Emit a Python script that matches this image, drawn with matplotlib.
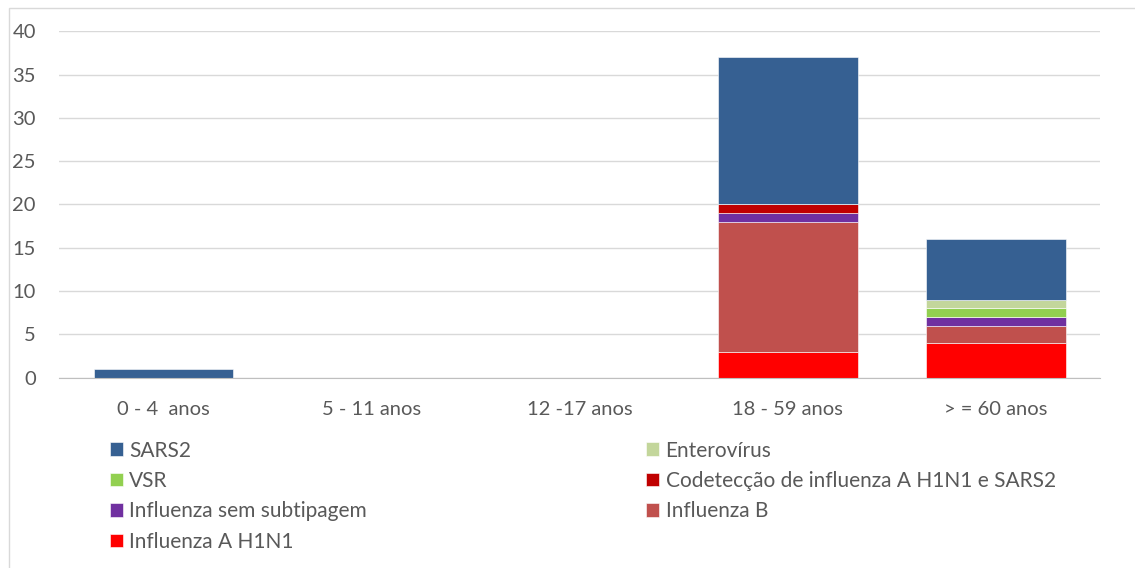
import matplotlib.pyplot as plt
import numpy as np
from matplotlib.patches import Rectangle

categories = ["0 - 4  anos", "5 - 11 anos", "12 -17 anos", "18 - 59 anos", "> = 60 anos"]

# series, bottom to top of the stack
h1n1 = [0, 0, 0, 3, 4]
flu_b = [0, 0, 0, 15, 2]
sem_subtip = [0, 0, 0, 1, 1]
codetec = [0, 0, 0, 1, 0]
vsr = [0, 0, 0, 0, 1]
entero = [0, 0, 0, 0, 1]
sars2 = [1, 0, 0, 17, 7]

series = [
    ("Influenza A H1N1", h1n1, "#FF0000"),
    ("Influenza B", flu_b, "#C0504D"),
    ("Influenza sem subtipagem", sem_subtip, "#7030A0"),
    ("Codetecção de influenza A H1N1 e SARS2", codetec, "#C00000"),
    ("VSR", vsr, "#92D050"),
    ("Enterovírus", entero, "#C3D69B"),
    ("SARS2", sars2, "#366092"),
]
legend_order = ["SARS2", "VSR", "Influenza sem subtipagem", "Influenza A H1N1",
                "Enterovírus", "Codetecção de influenza A H1N1 e SARS2", "Influenza B"]

plt.rcParams["font.family"] = ["Lato", "DejaVu Sans"]

fig = plt.figure(figsize=(11.35, 5.68), dpi=100)
ax = fig.add_axes([0.0524, 0.335, 0.9167, 0.61])

x = np.arange(len(categories))
bottom = np.zeros(len(categories))
handles = {}
for name, vals, color in series:
    vals = np.array(vals, dtype=float)
    bars = ax.bar(x, vals, 0.67, bottom=bottom, color=color,
                  edgecolor="white", linewidth=0.4, label=name, zorder=3)
    handles[name] = bars
    bottom += vals

ax.set_ylim(0, 40)
ax.set_xlim(-0.5, len(categories) - 0.5)
ax.set_yticks(range(0, 41, 5))
ax.set_xticks(x)
ax.set_xticklabels(categories)
ax.tick_params(length=0, labelsize=14.5, colors="#595959")
ax.tick_params(axis="x", pad=17)
ax.tick_params(axis="y", pad=17)
ax.grid(axis="y", color="#D9D9D9", linewidth=1, zorder=0)
for side in ("top", "right", "left"):
    ax.spines[side].set_visible(False)
ax.spines["bottom"].set_color("#BFBFBF")
ax.spines["bottom"].set_zorder(4)

leg = fig.legend([handles[n] for n in legend_order], legend_order, ncol=2,
                 loc="upper left", bbox_to_anchor=(0.0895, 0.239), frameon=False,
                 fontsize=15, handlelength=0.63, handleheight=0.63, handletextpad=0.3,
                 columnspacing=13.4, labelspacing=0.5, borderaxespad=0)
for t in leg.get_texts():
    t.set_color("#595959")

fig.patches.append(Rectangle((0.008, -0.01), 1.0, 0.996, transform=fig.transFigure,
                             fill=False, edgecolor="#D9D9D9", linewidth=1))

fig.savefig("out.png", dpi=100)
